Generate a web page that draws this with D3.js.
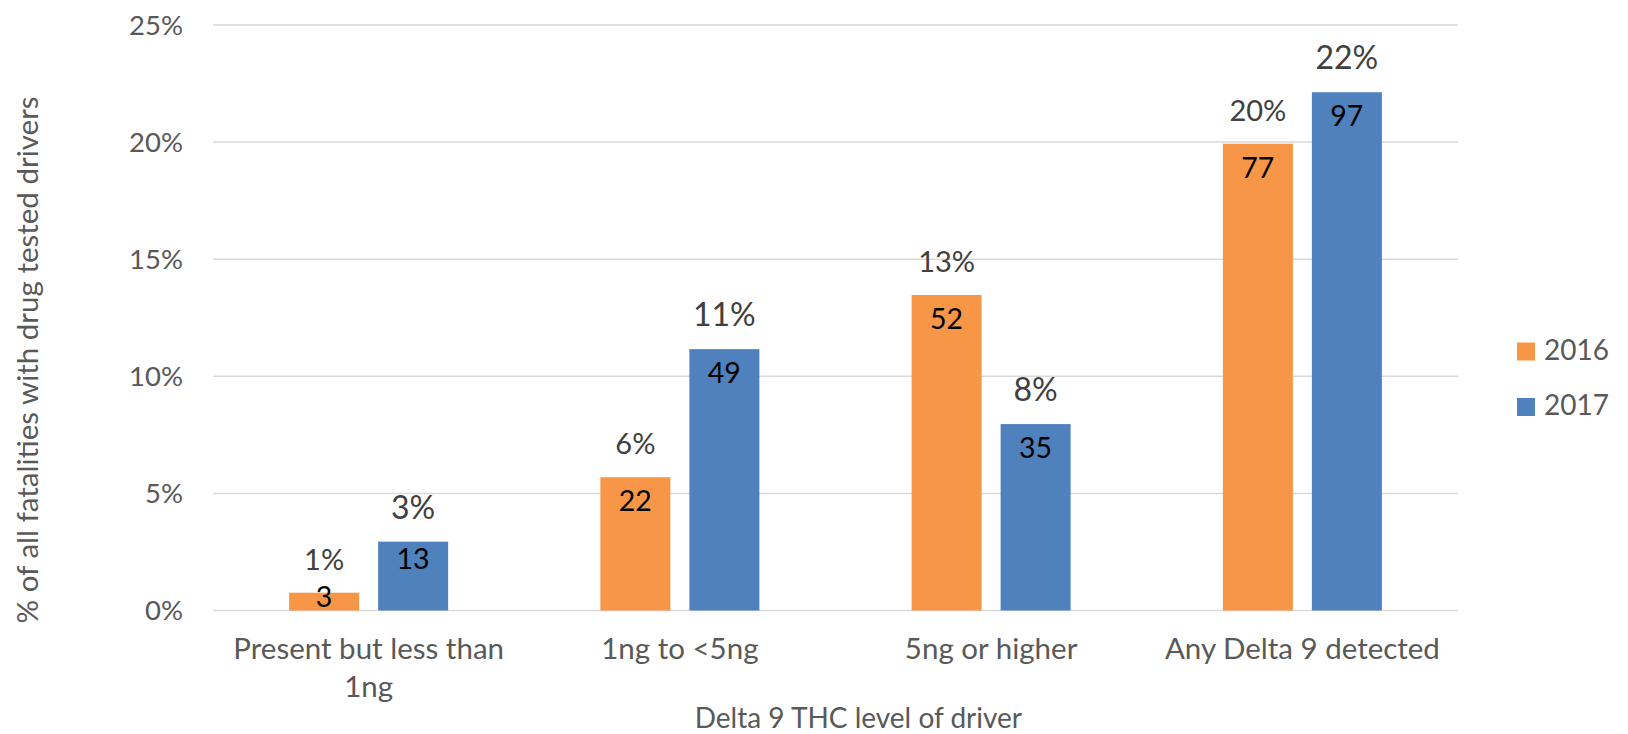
<!DOCTYPE html>
<html>
<head>
<meta charset="utf-8">
<script src="https://cdn.jsdelivr.net/npm/d3@7"></script>
<style>
  html, body { margin: 0; padding: 0; background: #fff; }
  svg { display: block; font-family: Lato, "Open Sans", sans-serif; }
</style>
</head>
<body>
<svg id="chart" width="1628" height="734"></svg>
<script>
// ---- data ----
const categories = ["Present but less than 1ng", "1ng to <5ng", "5ng or higher", "Any Delta 9 detected"];
const seriesNames = ["2016", "2017"];
const pct2016 = [0.76, 5.69, 13.47, 19.93];
const pct2017 = [2.94, 11.16, 7.96, 22.13];
const count2016 = [3, 22, 52, 77];
const count2017 = [13, 49, 35, 97];
const pctLabels2016 = ["1%", "6%", "13%", "20%"];
const pctLabels2017 = ["3%", "11%", "8%", "22%"];
const yTicks = [0, 5, 10, 15, 20, 25];
const colors = ["#F79646", "#4F81BD"];
const yTitle = "% of all fatalities with drug tested drivers";
const xTitle = "Delta 9 THC level of driver";

const series = [
  { name: seriesNames[0], pct: pct2016, counts: count2016, labels: pctLabels2016, color: colors[0], labelSize: 29 },
  { name: seriesNames[1], pct: pct2017, counts: count2017, labels: pctLabels2017, color: colors[1], labelSize: 32 }
];

// ---- layout ----
const svg = d3.select("#chart");
const plot = { left: 213, right: 1458, top: 25, bottom: 610.5 };

const x0 = d3.scaleBand().domain(categories).range([plot.left, plot.right]).paddingInner(0).paddingOuter(0);
const groupW = 159;
const x1 = d3.scaleBand().domain(seriesNames)
  .range([(x0.bandwidth() - groupW) / 2, (x0.bandwidth() + groupW) / 2])
  .paddingInner(0.2135).paddingOuter(0);
const y = d3.scaleLinear().domain([0, 25]).range([plot.bottom, plot.top]);

// gridlines
svg.append("g").selectAll("line").data(yTicks).join("line")
  .attr("x1", plot.left).attr("x2", plot.right)
  .attr("y1", d => y(d)).attr("y2", d => y(d))
  .attr("stroke", "#D9D9D9").attr("stroke-width", 1.5);

// y axis tick labels via d3 axis
const yAxis = d3.axisLeft(y).tickValues(yTicks).tickFormat(d => d + "%").tickSize(0).tickPadding(0);
const yg = svg.append("g").attr("transform", `translate(${183},0)`).call(yAxis);
yg.select(".domain").remove();
yg.selectAll("text")
  .attr("font-family", "Lato, sans-serif")
  .attr("font-size", 27.5)
  .attr("fill", "#595959")
  .attr("dy", "0.34em");

// bars
const groups = svg.append("g").selectAll("g").data(series).join("g");
groups.each(function (s) {
  const g = d3.select(this);
  const rows = categories.map((c, i) => ({ c, v: s.pct[i], n: s.counts[i], lab: s.labels[i] }));
  g.selectAll("rect").data(rows).join("rect")
    .attr("x", d => x0(d.c) + x1(s.name))
    .attr("y", d => y(d.v))
    .attr("width", x1.bandwidth())
    .attr("height", d => y(0) - y(d.v))
    .attr("fill", s.color);
  // percent labels above bars
  g.selectAll("text.pct").data(rows).join("text").attr("class", "pct")
    .attr("x", d => x0(d.c) + x1(s.name) + x1.bandwidth() / 2)
    .attr("y", d => y(d.v) - 23)
    .attr("text-anchor", "middle")
    .attr("font-size", s.labelSize)
    .attr("fill", "#404040")
    .text(d => d.lab);
  // count labels inside bar tops
  g.selectAll("text.cnt").data(rows).join("text").attr("class", "cnt")
    .attr("x", d => x0(d.c) + x1(s.name) + x1.bandwidth() / 2)
    .attr("y", d => {
      const h = y(0) - y(d.v);
      return y(d.v) + Math.min(34, Math.max(14, h * 0.4));
    })
    .attr("text-anchor", "middle")
    .attr("font-size", 28.5)
    .attr("fill", "#000")
    .text(d => d.n);
});

// x axis category labels (wrapped)
const xAxis = d3.axisBottom(x0).tickSize(0).tickPadding(0);
const xg = svg.append("g").attr("transform", `translate(0,${plot.bottom})`).call(xAxis);
xg.select(".domain").remove();
xg.selectAll("text")
  .attr("font-family", "Lato, sans-serif")
  .attr("font-size", 29.5)
  .attr("fill", "#595959")
  .attr("y", 48)
  .attr("dy", 0)
  .each(function (d) {
    const t = d3.select(this);
    const words = d.split(" ");
    const maxW = x0.bandwidth() * 0.92;
    t.text(null);
    let line = [];
    let tspan = t.append("tspan").attr("x", 0).attr("dy", 0);
    for (const w of words) {
      line.push(w);
      tspan.text(line.join(" "));
      if (tspan.node().getComputedTextLength() > maxW && line.length > 1) {
        line.pop();
        tspan.text(line.join(" "));
        line = [w];
        tspan = t.append("tspan").attr("x", 0).attr("dy", 38.3).text(w);
      }
    }
  });

// axis titles
svg.append("text")
  .attr("x", 858.4).attr("y", 728)
  .attr("text-anchor", "middle")
  .attr("font-size", 28)
  .attr("fill", "#595959")
  .text(xTitle);

svg.append("text")
  .attr("transform", `translate(38,360) rotate(-90)`)
  .attr("text-anchor", "middle")
  .attr("font-size", 29.5)
  .attr("fill", "#595959")
  .text(yTitle);

// legend
const legend = svg.append("g").selectAll("g").data(series).join("g")
  .attr("transform", (d, i) => `translate(1517,${342.5 + i * 55.5})`);
legend.append("rect").attr("width", 18).attr("height", 18).attr("fill", d => d.color);
legend.append("text").attr("x", 27).attr("y", 17)
  .attr("font-size", 28).attr("fill", "#595959")
  .text(d => d.name);
</script>
</body>
</html>
